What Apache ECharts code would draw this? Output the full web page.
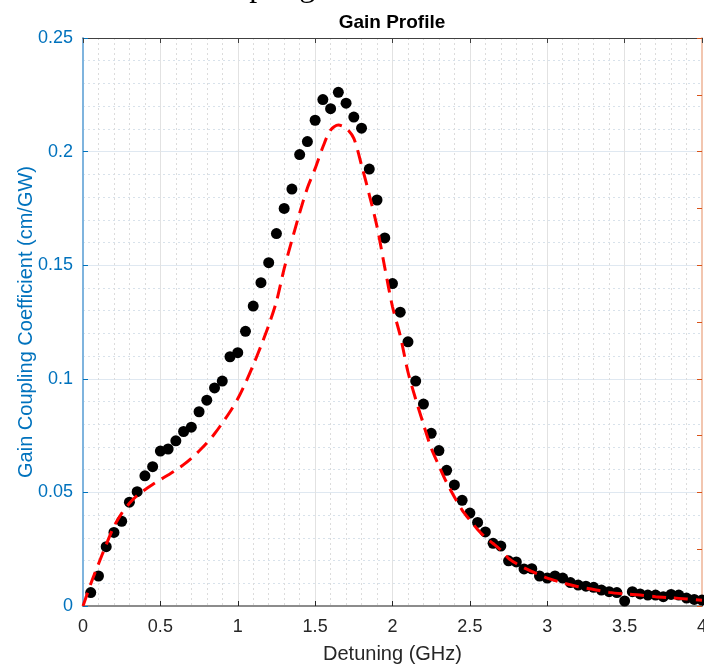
<!DOCTYPE html>
<html>
<head>
<meta charset="utf-8">
<title>Gain Profile</title>
<script src="https://cdn.jsdelivr.net/npm/echarts@6/dist/echarts.min.js"></script>
<style>
  html, body { margin: 0; padding: 0; background: #fff; }
  #chart { width: 704px; height: 665px; }
</style>
</head>
<body>
<div id="chart"></div>
<script>
// measured points (detuning in GHz, gain in cm/GW)
const detuning = [
  0.05, 0.10, 0.15, 0.20, 0.25, 0.30, 0.35, 0.40, 0.45, 0.50,
  0.55, 0.60, 0.65, 0.70, 0.75, 0.80, 0.85, 0.90, 0.95, 1.00,
  1.05, 1.10, 1.15, 1.20, 1.25, 1.30, 1.35, 1.40, 1.45, 1.50,
  1.55, 1.60, 1.65, 1.70, 1.75, 1.80, 1.85, 1.90, 1.95, 2.00,
  2.05, 2.10, 2.15, 2.20, 2.25, 2.30, 2.35, 2.40, 2.45, 2.50,
  2.55, 2.60, 2.65, 2.70, 2.75, 2.80, 2.85, 2.90, 2.95, 3.00,
  3.05, 3.10, 3.15, 3.20, 3.25, 3.30, 3.35, 3.40, 3.45, 3.50,
  3.55, 3.60, 3.65, 3.70, 3.75, 3.80, 3.85, 3.90, 3.95, 4.00
]
const measured = [
  0.0059, 0.0132, 0.0261, 0.0324, 0.0373, 0.0457, 0.0503, 0.0573, 0.0613, 0.0682,
  0.0691, 0.0727, 0.0768, 0.0787, 0.0855, 0.0906, 0.0960, 0.0990, 0.1097, 0.1115,
  0.1209, 0.1320, 0.1423, 0.1511, 0.1639, 0.1750, 0.1835, 0.1987, 0.2044, 0.2138,
  0.2229, 0.2189, 0.2261, 0.2213, 0.2152, 0.2103, 0.1923, 0.1787, 0.1620, 0.1419,
  0.1293, 0.1163, 0.0990, 0.0889, 0.0760, 0.0684, 0.0597, 0.0533, 0.0465, 0.0409,
  0.0368, 0.0326, 0.0276, 0.0264, 0.0199, 0.0194, 0.0163, 0.0164, 0.0132, 0.0123,
  0.0132, 0.0123, 0.0103, 0.0092, 0.0087, 0.0082, 0.0070, 0.0063, 0.0059, 0.0022,
  0.0063, 0.0053, 0.0048, 0.0048, 0.0041, 0.0051, 0.0048, 0.0035, 0.0029, 0.0026
]

// fitted curve (red dashed)
const fitX = [
  0, 0.05, 0.10, 0.15, 0.20, 0.25, 0.30, 0.35, 0.40, 0.45,
  0.50, 0.55, 0.60, 0.65, 0.70, 0.75, 0.80, 0.85, 0.90, 0.95,
  1.00, 1.05, 1.10, 1.15, 1.20, 1.25, 1.30, 1.35, 1.40, 1.45,
  1.50, 1.55, 1.60, 1.65, 1.70, 1.75, 1.80, 1.85, 1.90, 1.95,
  2.00, 2.05, 2.10, 2.15, 2.20, 2.25, 2.30, 2.35, 2.40, 2.45,
  2.50, 2.55, 2.60, 2.65, 2.70, 2.75, 2.80, 2.85, 2.90, 2.95,
  3.00, 3.10, 3.20, 3.30, 3.40, 3.50, 3.60, 3.70, 3.80, 3.90, 4.00
]
const fitY = [
  0, 0.0097, 0.0185, 0.0270, 0.0350, 0.0408, 0.0452, 0.0486, 0.0512, 0.0535,
  0.0556, 0.0577, 0.0598, 0.0622, 0.0650, 0.0682, 0.0717, 0.0758, 0.0805, 0.0855,
  0.0912, 0.0982, 0.1060, 0.1145, 0.1235, 0.1340, 0.1485, 0.1610, 0.1730, 0.1840,
  0.1925, 0.2020, 0.2095, 0.2117, 0.2103, 0.2058, 0.1940, 0.1810, 0.1670, 0.1490,
  0.1317, 0.1190, 0.1030, 0.0910, 0.0800, 0.0695, 0.0617, 0.0543, 0.0480, 0.0422,
  0.0378, 0.0337, 0.0302, 0.0275, 0.0246, 0.0210, 0.0187, 0.0168, 0.0152, 0.0137,
  0.0123, 0.0102, 0.0085, 0.0073, 0.0060, 0.0053, 0.0048, 0.0041, 0.0036, 0.0031, 0.0025
]

const font = 'Liberation Sans, Arial, sans-serif'
const chart = echarts.init(document.getElementById('chart'))

const option = {
  animation: false,
  backgroundColor: '#fff',
  title: {
    text: 'Gain Profile',
    left: 392,
    top: 13,
    padding: 0,
    textAlign: 'center',
    textStyle: { fontFamily: font, fontSize: 19, fontWeight: 'bold', color: '#000' }
  },
  graphic: [
    {
      type: 'text',
      x: 196,
      y: -12,
      silent: true,
      style: {
        text: 'Coupling',
        fontFamily: 'Liberation Serif',
        fontSize: 32,
        fill: '#000',
        verticalAlign: 'middle'
      }
    }
  ],
  grid: { left: 83, right: 2, top: 38, bottom: 59, outerBoundsMode: 'none', containLabel: false },
  xAxis: [
    {
      type: 'value',
      position: 'bottom',
      min: 0,
      max: 4,
      interval: 0.5,
      name: 'Detuning (GHz)',
      nameLocation: 'middle',
      nameGap: 38,
      nameMoveOverlap: false,
      nameTextStyle: { fontFamily: font, fontSize: 20, color: '#262626' },
      axisLine: { onZero: false, lineStyle: { color: '#8c8c8c', width: 2 } },
      axisTick: { inside: true, length: 5, lineStyle: { color: '#262626' } },
      axisLabel: { fontFamily: font, fontSize: 18, color: '#262626', margin: 12 },
      splitLine: { show: true, lineStyle: { color: '#e2e2e2', width: 1 } },
      minorTick: { show: false, splitNumber: 5 },
      minorSplitLine: { show: true, lineStyle: { color: '#dcdcdc', width: 1, type: [2, 3] } }
    },
    {
      type: 'value',
      position: 'top',
      min: 0,
      max: 4,
      interval: 0.5,
      axisLine: { onZero: false, lineStyle: { color: '#404040', width: 1 } },
      axisTick: { inside: true, length: 5, lineStyle: { color: '#404040' } },
      axisLabel: { show: false },
      splitLine: { show: false }
    }
  ],
  yAxis: [
    {
      type: 'value',
      position: 'left',
      min: 0,
      max: 0.25,
      interval: 0.05,
      name: 'Gain Coupling Coefficient (cm/GW)',
      nameLocation: 'middle',
      nameGap: 47,
      nameMoveOverlap: false,
      nameTextStyle: { fontFamily: font, fontSize: 20, color: '#0072BD' },
      axisLine: { show: true, onZero: false, lineStyle: { color: '#7fb4de', width: 2 } },
      axisTick: { show: true, inside: true, length: 5, lineStyle: { color: '#0072BD' } },
      axisLabel: { fontFamily: font, fontSize: 18, color: '#0072BD', margin: 10 },
      splitLine: { show: true, lineStyle: { color: '#dfe8f1', width: 1 } },
      minorTick: { show: false, splitNumber: 5 },
      minorSplitLine: { show: true, lineStyle: { color: '#d8e2eb', width: 1, type: [2, 3] } }
    },
    {
      type: 'value',
      position: 'right',
      min: 0,
      max: 10,
      interval: 1,
      axisLine: { show: true, onZero: false, lineStyle: { color: '#f2c6b0', width: 2 } },
      axisTick: { show: true, inside: true, length: 5, lineStyle: { color: '#D95319' } },
      axisLabel: { show: false },
      splitLine: { show: false }
    }
  ],
  series: [
    {
      name: 'Measured',
      type: 'scatter',
      xAxisIndex: 0,
      yAxisIndex: 0,
      symbol: 'circle',
      symbolSize: 11,
      itemStyle: { color: '#000', opacity: 1 },
      data: detuning.map((x, i) => [x, measured[i]]),
      z: 3
    },
    {
      name: 'Fit',
      type: 'line',
      xAxisIndex: 0,
      yAxisIndex: 0,
      smooth: 0.3,
      showSymbol: false,
      lineStyle: { color: '#ff0000', width: 3, type: [14, 8] },
      data: fitX.map((x, i) => [x, fitY[i]]),
      z: 4
    }
  ]
}

chart.setOption(option)
window.addEventListener('resize', () => chart.resize())
</script>
</body>
</html>
